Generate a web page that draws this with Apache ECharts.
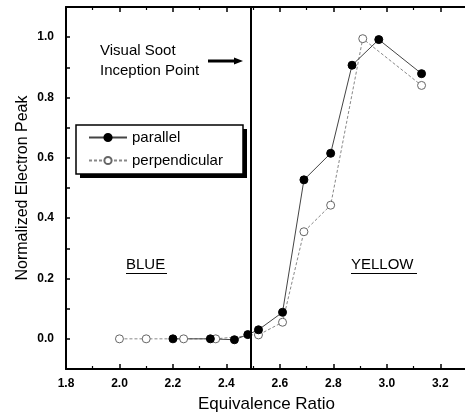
<!DOCTYPE html>
<html><head><meta charset="utf-8">
<script src="https://cdn.jsdelivr.net/npm/echarts@6/dist/echarts.min.js"></script>
<style>html,body{margin:0;padding:0;background:#fff}#c{width:465px;height:416px}</style>
</head><body><div id="c"></div>
<script>
const parallelX = [2.20, 2.34, 2.43, 2.48, 2.52, 2.61, 2.69, 2.79, 2.87, 2.97, 3.13];
const parallelY = [0.0, 0.0, -0.003, 0.014, 0.03, 0.088, 0.527, 0.615, 0.907, 0.992, 0.879];
const perpX = [2.00, 2.10, 2.24, 2.36, 2.52, 2.61, 2.69, 2.79, 2.91, 3.13];
const perpY = [0.0, 0.0, 0.0, 0.0, 0.013, 0.055, 0.355, 0.443, 0.995, 0.84];
const xTickLabels = ['1.8','2.0','2.2','2.4','2.6','2.8','3.0','3.2'];
const yTickLabels = ['0.0','0.2','0.4','0.6','0.8','1.0'];
const inceptionX = 2.49;
const seriesNames = ['parallel', 'perpendicular'];

const FONT = '"Liberation Sans", Arial, sans-serif';
const chart = echarts.init(document.getElementById('c'));
const zip = (xs, ys) => xs.map((x, i) => [x, ys[i]]);

chart.setOption({
  animation: false,
  backgroundColor: '#fff',
  grid: { left: 66, top: 7, right: -2, bottom: 47, containLabel: false, outerBoundsMode: 'none' },
  xAxis: [{
    type: 'value', min: 1.8, max: 3.3, interval: 0.2,
    name: 'Equivalence Ratio', nameLocation: 'middle', nameGap: 27,
    nameTextStyle: { fontSize: 17, color: '#000', fontFamily: FONT },
    axisLine: { show: true, onZero: false, lineStyle: { color: '#000', width: 2 } },
    axisTick: { show: true, inside: true, length: 5, lineStyle: { color: '#000', width: 1.5 } },
    minorTick: { show: true, splitNumber: 2, length: 3, lineStyle: { color: '#000', width: 1.2 } },
    splitLine: { show: false },
    axisLabel: {
      color: '#000', fontSize: 12, fontFamily: FONT, fontWeight: 'bold', margin: 9,
      showMaxLabel: false,
      formatter: v => { const s = v.toFixed(1); return xTickLabels.includes(s) ? s : ''; }
    }
  }, {
    type: 'value', min: 1.8, max: 3.3, interval: 0.2, position: 'top',
    axisLine: { show: true, onZero: false, lineStyle: { color: '#000', width: 2 } },
    axisTick: { show: true, inside: true, length: 5, lineStyle: { color: '#000', width: 1.5 } },
    minorTick: { show: true, splitNumber: 2, length: 3, lineStyle: { color: '#000', width: 1.2 } },
    splitLine: { show: false }, axisLabel: { show: false }
  }],
  yAxis: {
    type: 'value', min: -0.1, max: 1.1, interval: 0.1,
    name: 'Normalized Electron Peak', nameLocation: 'middle', nameGap: 35,
    nameMoveOverlap: false,
    nameTextStyle: { fontSize: 16, color: '#000', fontFamily: FONT },
    axisLine: { show: true, onZero: false, lineStyle: { color: '#000', width: 2 } },
    axisTick: { show: true, inside: true, length: 4, lineStyle: { color: '#000', width: 1.5 } },
    splitLine: { show: false },
    axisLabel: {
      color: '#000', fontSize: 12, fontFamily: FONT, fontWeight: 'bold', margin: 12,
      showMinLabel: false, showMaxLabel: false,
      formatter: v => { const s = v.toFixed(1); return yTickLabels.includes(s) ? s : ''; }
    }
  },
  legend: {
    data: seriesNames, orient: 'vertical', left: 76, top: 126,
    itemWidth: 38, itemHeight: 9, itemGap: 8,
    padding: [4, 10, 4, 12],
    textStyle: { fontSize: 15, color: '#000', fontFamily: FONT, lineHeight: 14 },
    backgroundColor: 'transparent', borderWidth: 0, z: 10
  },
  series: [{
    name: 'perpendicular', type: 'line', data: zip(perpX, perpY),
    symbol: 'circle', symbolSize: 8,
    itemStyle: { color: '#fff', borderColor: '#666', borderWidth: 1 },
    lineStyle: { color: '#888', width: 1, type: [3, 2] }
  }, {
    name: 'parallel', type: 'line', data: zip(parallelX, parallelY),
    symbol: 'circle', symbolSize: 8,
    itemStyle: { color: '#000', borderColor: '#000', borderWidth: 1 },
    lineStyle: { color: '#444', width: 1 },
    markLine: {
      silent: true, symbol: 'none', label: { show: false },
      lineStyle: { color: '#000', width: 2, type: 'solid' },
      data: [{ xAxis: inceptionX }]
    }
  }],
  graphic: [
    { type: 'rect', z: 5, shape: { x: 80, y: 129, width: 167, height: 49 }, style: { fill: '#000' } },
    { type: 'rect', z: 6, shape: { x: 76, y: 125, width: 167, height: 49 }, style: { fill: '#fff', stroke: '#000', lineWidth: 1.5 } },
    { type: 'text', left: 100, top: 43, style: { text: 'Visual Soot', fontSize: 15, fontFamily: FONT, fill: '#000' } },
    { type: 'text', left: 100, top: 63, style: { text: 'Inception Point', fontSize: 15, fontFamily: FONT, fill: '#000' } },
    { type: 'line', shape: { x1: 208, y1: 61, x2: 236, y2: 61 }, style: { stroke: '#000', lineWidth: 3 } },
    { type: 'polygon', shape: { points: [[234, 57.5], [243, 61], [234, 64.5]] }, style: { fill: '#000' } },
    { type: 'text', left: 126, top: 257, style: { text: 'BLUE', fontSize: 15, fontFamily: FONT, fill: '#000' } },
    { type: 'line', shape: { x1: 126, y1: 273.5, x2: 167, y2: 273.5 }, style: { stroke: '#000', lineWidth: 1.2 } },
    { type: 'text', left: 351, top: 257, style: { text: 'YELLOW', fontSize: 15, fontFamily: FONT, fill: '#000' } },
    { type: 'line', shape: { x1: 351, y1: 273.5, x2: 417, y2: 273.5 }, style: { stroke: '#000', lineWidth: 1.2 } }
  ]
});
</script></body></html>
